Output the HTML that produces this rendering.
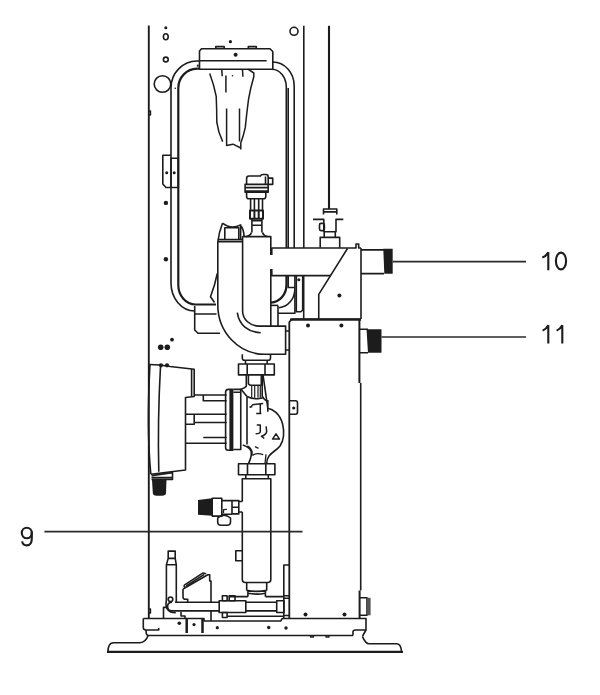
<!DOCTYPE html>
<html><head><meta charset="utf-8">
<style>
html,body{margin:0;padding:0;background:#fff;width:600px;height:695px;overflow:hidden}
svg{position:absolute;left:0;top:0}
.t{font-family:"Liberation Sans",sans-serif;font-size:25px;fill:#1a1a1a}
</style></head><body>
<svg width="600" height="695" viewBox="0 0 600 695">
<g fill="none" stroke="#1c1c1c" stroke-width="1.6" stroke-linejoin="round" stroke-linecap="butt">
<!-- ===== cabinet ===== -->
<path d="M148.8,25.6 V618.5" stroke-width="1.9"/>
<path d="M149,111 h1.5 v4 h-1.5 M149,609 h1.5 v4 h-1.5" stroke-width="1.4"/>
<ellipse cx="165.8" cy="36.7" rx="2.4" ry="3"/>
<circle cx="165.8" cy="59.5" r="2.4"/>
<circle cx="162.5" cy="84" r="8.3"/>
<circle cx="294" cy="31.3" r="4"/>
<path d="M303.8,25.8 V248"/>
<path d="M329,25.8 V209.2" stroke-width="2.1"/>

<!-- ===== frame (tank) ===== -->
<path d="M199.5,61 H197 A26,27 0 0 0 171,88 V283 A24,28 0 0 0 194.7,311"/>
<path d="M272.8,62 A21.5,24 0 0 1 294.2,86 V248"/>
<path d="M199.5,68.6 H197 A19,19.5 0 0 0 178.3,88 V285 A17.3,19.5 0 0 0 195.5,304.5 H216" stroke-width="2.2"/>
<path d="M272,69.2 A14.5,18 0 0 1 286.3,87 V248"/>
<path d="M288.2,88 V248"/>
<!-- bracket -->
<path d="M199.5,51 L201.5,48.7 H270 L272.8,51.5 V69.2 H199.5 Z"/>
<path d="M199.5,60.8 H266.7"/>
<path d="M215.8,48.7 V46.6 H224.2 V48.7 M248.3,48.7 V46.6 H256.3 V48.7"/>
<!-- bag -->
<path d="M209.7,73.6 Q214,85 216.2,96.3 Q216.8,110 216.8,122.2 Q218,132 222.7,141.6" stroke-width="1.5"/>
<path d="M248,69.2 L253.8,73 V76.8 Q250.5,88 248.6,98.9 Q246.5,115 245.3,127.4 Q243.5,136 240.8,142.9 V149.4" stroke-width="1.5"/>
<path d="M226.6,108.6 V145.5 L233,144.2 L240.8,148 M239.5,108.6 V141.6 M225.9,75.5 V92.4 M221.8,69.5 L222.2,76.2 M242.5,69.5 L242.9,76.8" stroke-width="1.5"/>
<!-- clip on frame -->
<path d="M171,155.3 H162.8 V184 L166,187.5 H178.3 V158.3 H171 V187.5"/>

<!-- ===== air vent ===== -->
<path d="M246.6,184.4 V178.5 Q246.6,176 249,176 H260.4 Q261,174.5 263,174.5 H266 Q268.2,174.5 268.2,177 V184.4 M265.5,176.5 V184.4"/>
<path d="M268.2,178.1 H272.7 V184.4 H268.2"/>
<path d="M245.1,184.4 H268.2 V192.3 H245.1 Z M245.1,187.6 H268.2" />
<path d="M245.1,191.4 H268.2" stroke-width="2.3"/>
<path d="M246.6,192.3 V196.5 Q246.6,198.8 249,198.8 H263.4 Q265.8,198.8 265.8,196.5 V192.3"/>
<path d="M250.6,198.8 V210.6 M262.5,198.8 V210.6 M254.4,198.8 V210.6 M258.7,198.8 V210.6"/>
<path d="M250,210.6 H263 V218.7 H250 Z M254.4,210.6 V218.7 M258.7,210.6 V218.7" stroke-width="2"/>
<path d="M251.9,218.7 V232.5 M261.9,218.7 V232.5 M251.9,220.6 H261.9 M251.9,225.2 H261.9"/>
<path d="M251.5,232.5 Q250.5,235.8 246,236.6 M262.5,232.5 Q263.5,235.8 267.5,236.6"/>

<!-- ===== saddle + column + elbow ===== -->
<path d="M222.5,223.2 Q231,230 240.6,224.9 V240 M241,226 Q243.5,229 244.1,236 M222.5,223.2 Q219,232 217.8,242"/>
<path d="M224.8,239.5 V227.8 H238.8 V239.5"/>
<path d="M217.8,239.6 H242.3 M217.8,241.8 H242.3"/>
<path d="M242.3,236.6 H270.8 V248"/>
<path d="M271.3,248 v7 M271.3,269 v7" stroke-width="2.6"/>
<path d="M217.8,241.8 V305 A47,49.3 0 0 0 264.5,354.3 H285.6 V326.1 H259"/>
<path d="M242.6,236.6 V311 A16.5,15.1 0 0 0 259.3,326.1"/>
<path d="M237.3,312.7 C239,325 248,332 260.7,332.7"/>
<path d="M217.3,273.3 Q215,285 210.5,296.7 L214.5,302.5"/>
<path d="M270.8,275.6 V326.1 M278,305.4 V326.1"/>
<path d="M285.6,331 H289 M285.6,350 H289"/>
<!-- box below frame -->
<path d="M194.7,306 V330 L198,333.3 H220 M194.7,314 H216.5"/>

<!-- ===== horizontal pipe to connector 10 ===== -->
<path d="M271.3,248 H356 V244 H358.7 V248 H361"/>
<path d="M271.3,275.6 H330.6"/>
<path d="M347.5,248.5 L318.75,294.4 V319"/>
<path d="M361,248 V319"/>
<path d="M361,249.9 H384 M361,273.6 H384"/>
<path d="M392.7,261.6 H526" stroke-width="1.7" stroke="#2a2a2a"/>
<!-- fittings above pipe -->
<path d="M320.2,247.8 V237.4 H339.7 V247.8 M324.2,231.7 V237.4 M335.3,231.7 V237.4 M313,219.4 H323.8 V231.7 H336 V219.4 H343.3"/>
<rect x="319.5" y="223.4" width="4.9" height="7.2" rx="1.5"/>
<path d="M323.5,214.4 V209 H336.8 V214.4 M323.5,211.9 H336.8"/>
<!-- below pipe -->
<path d="M303.7,275.6 V319"/>
<path d="M286.5,275.3 V284.3 A16,18 0 0 1 271,302.6" stroke-width="2.3"/>
<path d="M288.2,275.3 V287.5 H294.9 M294.9,275.3 V313.2 H278 M294.9,288.9 A17,19 0 0 1 278.9,307.7"/>
<path d="M270.8,305.4 H278"/>
<path d="M296.3,275.3 V311.8 H300.9 L302.7,310 V275.3"/>

<!-- ===== heater box ===== -->
<path d="M289.3,618.5 V322 L292,319.2 H361" stroke-width="1.8"/>
<path d="M290,319.6 H361" stroke-width="2.4"/>
<path d="M359.4,319 V383 M359.6,590.5 V618.5" stroke-width="2"/>
<path d="M360.7,383 V590.5"/>
<path d="M289.3,400.8 H295.5 Q297.5,400.8 297.5,403 V412 Q297.5,414.2 295.5,414.2 H289.3"/>
<path d="M359.4,329.2 H368 M359.4,352.7 H368"/>
<path d="M381.5,337 H526" stroke-width="1.7" stroke="#2a2a2a"/>
<path d="M359.6,597.8 H367 V615.3 H359.6"/>

<!-- ===== pump motor ===== -->
<path d="M149.5,364.5 L160,365 L170,366.5 L194.2,369.2 V396.5 L185.5,397.5 V470 L150.8,474.2"/>
<path d="M150,364 C148,400 147.5,440 150.8,474.2"/>
<path d="M160.5,366.5 Q157.5,420 158.8,471.7"/>
<path d="M191.6,369 V396.5"/>
<path d="M194,395 H226.7 M203.3,395 V400.8 H226.7 M185,414.2 H194.2 V424.2 H185 M194.2,414.2 H226.7 M194.2,422.5 H226.7 M203.3,437.5 H226.7 M185,443.3 H226.7"/>
<path d="M233.4,389.4 H228.3 Q225.6,389.4 225.6,392.5 V447.5 Q225.6,450.2 228.3,450.2 H233.4"/>
<path d="M233.4,389.4 H240.75 V449.5 H233.4 M233.4,392.2 H240.75"/>
<path d="M151.5,475.6 L172.5,472.6 V479.5 H151.5 M151.5,477.6 H172.5"/>

<!-- ===== pump body ===== -->
<path d="M242.3,354.3 V358 Q242.3,360.3 244.6,360.3 H268.2 Q270.5,360.3 270.5,358 V354.3"/>
<path d="M245.5,360.3 V364 M267.2,360.3 V364"/>
<path d="M238.5,364 H274.3 V374.9 H238.5 Z M247.2,364 V374.9 M265,364 V374.9"/>
<path d="M246.3,374.9 V386.2 Q245,388 241,389.2 L247,396.5"/>
<path d="M248.4,374.9 V383.7 Q249.5,385.3 251.3,385.3 H262 M261.3,374.9 V385"/>
<path d="M251.7,386 V397.8 M254.7,386 V397.8 M258,386 V397.8 M260.3,386 V397.8" stroke-width="1.2"/>
<path d="M247,396.5 Q252,399 258,398.7 Q261,398.5 263,397.8"/>
<path d="M263,374.9 L267.8,408.2 M267.8,400 V411.7 M262.2,374.9 V396.2 Q264,400 267.2,401.2"/>
<path d="M247,397 V444.5"/>
<path d="M267.8,408.2 C273,409 280,414 282.6,424 C284.5,432 284,440 280,446 C277,450 272,452 269,456 C267.5,458 266.7,460 266.7,463.6"/>
<path d="M242.8,445 Q249,447 251,451 Q252.5,455 248.5,463.6 M247.4,446 Q251,448 252,452 Q252.5,455 251,456"/>
<path d="M255,446.7 L258.5,448.4 M252.7,455.4 Q256,452.5 263.2,454.6 M266,454.3 L265,463.6" stroke-width="1.3"/>
<path d="M252.7,404.7 L263.2,403.5 M252.7,404.7 Q251.5,405.5 251.5,407.6 M260.3,403.5 V413.4 M256.2,413.4 H261.4" stroke-width="1.5"/>
<path d="M256.8,425 H260.3 V431.5 Q260.3,433.8 255.6,433.8 M266.1,426.3 L266.7,431.5 Q266,435 261.4,436.2 L264.3,438.5" stroke-width="1.5"/>
<path d="M272.5,439.1 L276,433.8 L279.5,439.1 Z" stroke-width="1.5"/>
<path d="M238.5,463.7 H274.9 V474.8 H238.5 Z M247.5,463.7 V474.8 M265.8,463.7 V474.8"/>
<path d="M245.8,474.8 V478.8 M268.3,474.8 V478.8"/>
<path d="M242.3,501.5 V478.8 H270.8 V579.5 Q270.8,582.5 267.8,582.5 H245.3 Q242.3,582.5 242.3,579.5 V512"/>
<path d="M242.3,550.8 H235.8 V560.8 H242.3"/>
<path d="M246.7,582.5 V590.4 M266.7,582.5 V590.4 M246.7,590.4 Q256.7,592.3 266.7,590.4 M247.9,593.3 Q256.7,595 265.4,593.3 M247.9,590.4 V596.7 M265.4,590.4 V596.7"/>


<!-- ===== valve ===== -->
<path d="M212.2,498.3 H221.8 V516.1 H212.2 Z"/>
<path d="M221.8,500.6 H232 M221.8,514.3 H232 M232,500.6 H238.8 V513.9 H232 Z M232,507.3 H238.8 M238.8,501.5 H242.3 M238.8,512 H242.3"/>
<path d="M217.7,518 V522 Q217.7,525.3 221,525.3 H227 Q230.5,525.3 230.5,522 V518 Q224,512.5 217.7,518 Z"/>
<path d="M223.2,509.7 L226.9,509.3 M223.5,509.7 V513" stroke-width="1.3"/>

<!-- ===== bottom assembly ===== -->
<path d="M168.2,558.4 V551.1 H175.2 V558.4 H168.2 M168.2,558.4 L166.4,564.8 H176.3 L175.2,558.4 M166.4,564.8 V600 M176.3,564.8 V602.2"/>
<circle cx="170.5" cy="599.3" r="2.3"/>
<path d="M175,602.2 H219.2 M245.8,602.2 H276.7 M172,610.9 H219.2 M245.8,610.9 H276.7 M172,602.2 Q167.6,602.2 167.6,606.5 Q167.6,610.9 172,610.9"/>
<path d="M166.4,600 Q164,612.7 175.8,612.7"/>
<path d="M276.7,600.8 H284 V612.5 H276.7 Z"/>
<path d="M219.2,600.8 H245.8 V612.5 H219.2 Z"/>
<path d="M228.3,596.6 H247.9 M265.4,596.6 H283.8 M227.1,616.2 H284 M222.4,595.8 H227.1 V600.8 H222.4 Z M229.2,595.8 H235 V600.8 H229.2 Z M222.4,612.5 H227.1 V617.5 H222.4 Z"/>
<path d="M183,589 V597 Q183,599.3 185.5,599.3 H187.7 V602.2 M183,589 L207.8,574.7 H209.7 V581 H211 V602.2"/>
<path d="M185.5,587.6 Q183.2,586.5 184.6,584.8 L202.3,573.3 Q204.8,572.4 206,574.2 M186.2,586 L204.3,574.3" stroke-width="1.5"/>
<path d="M181,612 V616 H185 V618.5 M211,610.9 V621"/>
<path d="M163.5,618.6 V607.4 H166.4"/>
<path d="M283.8,618.5 V565 H289.3 M283.8,595.8 H289.3 M283.8,598.3 H289.3 M283.8,615.5 H289.3"/>

<!-- ===== base ===== -->
<path d="M143.3,618.5 H204 V621 H280.7 L282.3,618.5 H366 V630 L362.6,636 M353,635.5 V632 Q353,630 355.5,630 H366 M353,635.5 H148"/>
<path d="M143.3,618.6 V627.5 Q143.3,630 146,630 H158.7 V628"/>
<path d="M146,630 Q146,635 148,635.5"/>
<path d="M148,635.7 C146.5,640 144,642.3 140,642.8 H113 Q108,643.3 108,651.7 M362.4,636.4 C364,640 365.5,643.7 369,643.7 H397 Q401,644 401.5,651.7"/>
<path d="M107,651.9 H403" stroke-width="2.4"/>
<path d="M186.7,618.5 V633 M202.5,618.5 V633" stroke-width="2.5"/>

<path d="M310.5,635.5 v1.5 h3 v-1.5 M326,635.5 v1.5 h3 v-1.5" stroke-width="1.3"/>

<!-- leader 9 -->
<path d="M44.4,531.6 H302.5" stroke-width="1.7" stroke="#2a2a2a"/>
</g>

<g fill="#1c1c1c">
<circle cx="165.8" cy="27.8" r="1.5"/>
<circle cx="230.4" cy="41.7" r="1.6"/>
<circle cx="235.6" cy="54.7" r="2"/>
<circle cx="232.5" cy="75.8" r="0.8"/>
<circle cx="175.3" cy="88.3" r="0.8"/>
<circle cx="197.8" cy="65.7" r="1.1"/>
<circle cx="166.7" cy="172.8" r="1.5"/>
<circle cx="174.2" cy="172.8" r="1.5"/>
<circle cx="165.9" cy="202.9" r="2.2"/>
<circle cx="165.9" cy="259.2" r="2.2"/>
<path d="M229.4,389.6 H233.4 V450.2 H229.4 Z"/>
<path d="M383.3,248.7 H392.7 V273.7 H384.3 Z"/>
<path d="M366.5,329.2 H381.5 V352.7 H368 Z"/>
<path d="M367,597.8 H370.6 V615.3 H367 Z" fill="#555"/>
<path d="M152,479.5 H166.5 L166,493 Q165.8,495.8 162,495.8 H156.5 Q153,495.8 152.8,493 Z"/>
<path d="M198,500 L212.2,498.3 V515.7 L198,514.8 Z"/>
<circle cx="308" cy="325.4" r="2"/>
<circle cx="341.4" cy="325.4" r="2"/>
<circle cx="305.5" cy="614.5" r="2"/>
<circle cx="344.5" cy="614.5" r="2"/>
<circle cx="293.7" cy="408" r="1.6"/>
<circle cx="339.4" cy="295.4" r="2"/>
<circle cx="298.8" cy="279.8" r="1.5"/>
<circle cx="172" cy="339.7" r="1.9"/>
<circle cx="160.7" cy="347.3" r="2.8"/>
<circle cx="167.3" cy="347.3" r="2.8"/>
<circle cx="161" cy="365.3" r="2.1"/>
<circle cx="167" cy="365.3" r="2.1"/>
<circle cx="250.3" cy="407" r="0.9"/>
<circle cx="179.3" cy="623.3" r="1.8"/>
<circle cx="194" cy="624.6" r="1.6"/>
<circle cx="217.3" cy="627.7" r="1.6"/>
<circle cx="268.7" cy="627.5" r="1.7"/>
<circle cx="286" cy="628" r="1.7"/>
</g>
<g fill="none" stroke="#1c1c1c" stroke-width="2.1" stroke-linecap="butt">
<path d="M548.3,270.3 V252.3 Q546.5,256 542.3,257.6"/>
<ellipse cx="561" cy="261" rx="5.1" ry="8.4"/>
<path d="M548.3,343.4 V325.3 Q546.5,329 542.6,330.6"/>
<path d="M562.3,343.4 V325.3 Q560.5,329 556.6,330.6"/>
<ellipse cx="26.8" cy="533" rx="5" ry="5.2"/>
<path d="M31.8,532 V538.5 C31.8,543 29.8,545.4 26.6,545.4 C24.2,545.4 22.6,543.8 22.1,541.4"/>
</g>
</svg>
</body></html>
